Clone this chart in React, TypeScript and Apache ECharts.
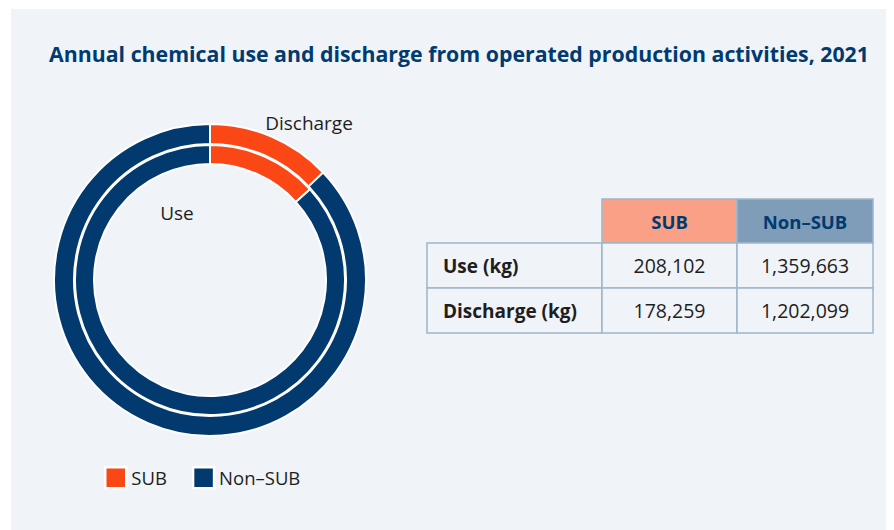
import React, { useEffect, useRef } from "react";
import * as echarts from "echarts";

const title = "Annual chemical use and discharge from operated production activities, 2021";
const categories = ["SUB", "Non-SUB"];
const rowLabels = ["Use (kg)", "Discharge (kg)"];
const useValues = [208102, 1359663];
const dischargeValues = [178259, 1202099];
const ringLabels = ["Use", "Discharge"];

const ORANGE = "#fb4716";
const NAVY = "#023a6f";
const BG = "#f0f3f7";
const BORDER = "#9fb5ca";
const FONT = "'Open Sans', Roboto, sans-serif";

export default function App() {
  const ref = useRef<HTMLDivElement>(null);
  useEffect(() => {
    if (!ref.current) return;
    const chart = echarts.init(ref.current, null, { renderer: "svg" });
    const fmt = (v: number) => v.toLocaleString("en-US");
    const colX = [419, 594, 729, 865];
    const rowY = [191, 235, 280, 325];
    const headerFill = ["#faa086", "#7f9db8"];
    const tableValues = [useValues, dischargeValues];
    const g: any[] = [];
    g.push({ type: "rect", shape: { x: 3, y: 1, width: 894, height: 530 }, style: { fill: BG }, z: -10 });
    categories.forEach((c, i) => {
      g.push({
        type: "rect",
        shape: { x: colX[i + 1], y: rowY[0], width: colX[i + 2] - colX[i + 1], height: rowY[1] - rowY[0] },
        style: { fill: headerFill[i], stroke: BORDER, lineWidth: 1.5 },
      });
      g.push({
        type: "text",
        x: (colX[i + 1] + colX[i + 2]) / 2,
        y: (rowY[0] + rowY[1]) / 2,
        style: { text: c.replace("-", "–"), fill: "#003a70", font: `bold 18.5px ${FONT}`, align: "center", verticalAlign: "middle" },
      });
    });
    rowLabels.forEach((lab, r) => {
      for (let c = 0; c < 3; c++) {
        g.push({
          type: "rect",
          shape: { x: colX[c], y: rowY[r + 1], width: colX[c + 1] - colX[c], height: rowY[r + 2] - rowY[r + 1] },
          style: { fill: BG, stroke: BORDER, lineWidth: 1.5 },
        });
      }
      g.push({
        type: "text",
        x: 435,
        y: (rowY[r + 1] + rowY[r + 2]) / 2,
        style: { text: lab, fill: "#1e1e1e", font: `bold 19px ${FONT}`, align: "left", verticalAlign: "middle" },
      });
      tableValues[r].forEach((v, c) => {
        g.push({
          type: "text",
          x: (colX[c + 1] + colX[c + 2]) / 2,
          y: (rowY[r + 1] + rowY[r + 2]) / 2,
          style: { text: fmt(v), fill: "#1e1e1e", font: `19.5px ${FONT}`, align: "center", verticalAlign: "middle" },
        });
      });
    });
    g.push({ type: "text", x: 169, y: 205, style: { text: ringLabels[0], fill: "#1e1e1e", font: `19px ${FONT}`, align: "center", verticalAlign: "middle" } });
    g.push({ type: "text", x: 301, y: 115, style: { text: ringLabels[1], fill: "#1e1e1e", font: `19px ${FONT}`, align: "center", verticalAlign: "middle" } });

    const pieBase = {
      type: "pie",
      center: [202, 272],
      startAngle: 90,
      clockwise: true,
      label: { show: false },
      labelLine: { show: false },
      emphasis: { disabled: true },
      itemStyle: { borderColor: "#ffffff", borderWidth: 2 },
    };
    chart.setOption({
      animation: false,
      backgroundColor: "#ffffff",
      color: [ORANGE, NAVY],
      title: {
        text: title,
        left: 446,
        textAlign: "center",
        top: 30,
        textStyle: { fontFamily: FONT, fontWeight: "bold", fontSize: 21.3, color: "#003a70" },
      },
      legend: {
        data: categories.map((c) => ({ name: c })),
        left: 96,
        top: 458,
        padding: 0,
        itemWidth: 21,
        itemHeight: 21,
        itemGap: 25,
        icon: "rect",
        formatter: (n: string) => n.replace("-", "–"),
        textStyle: { fontFamily: FONT, fontSize: 18.5, color: "#1e1e1e" },
        itemStyle: { borderColor: "#ffffff", borderWidth: 2.5 },
      },
      graphic: g,
      series: [
        {
          ...pieBase,
          name: "Use",
          radius: [116, 135],
          data: categories.map((c, i) => ({ name: c, value: useValues[i] })),
        },
        {
          ...pieBase,
          name: "Discharge",
          radius: [136, 156],
          data: categories.map((c, i) => ({ name: c, value: dischargeValues[i] })),
        },
      ],
    });
    return () => chart.dispose();
  }, []);
  return <div ref={ref} style={{ width: 886, height: 522 }} />;
}
